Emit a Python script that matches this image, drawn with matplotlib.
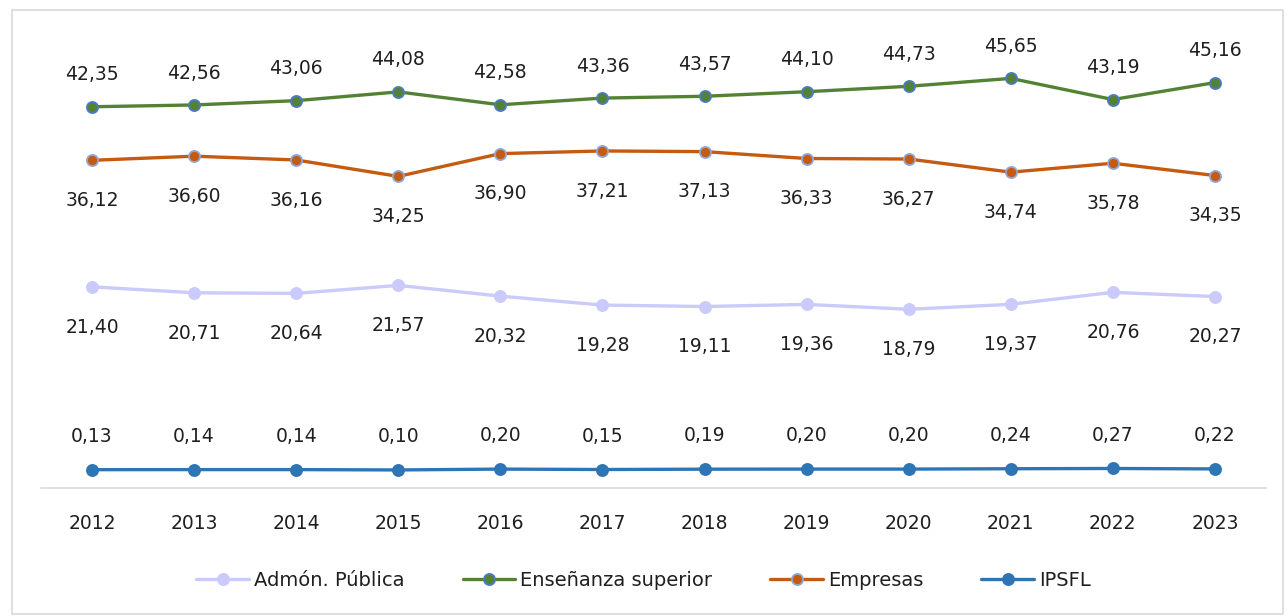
import matplotlib.pyplot as plt
from matplotlib.patches import Rectangle

years = ['2012', '2013', '2014', '2015', '2016', '2017', '2018', '2019', '2020', '2021', '2022', '2023']
admon = [21.40, 20.71, 20.64, 21.57, 20.32, 19.28, 19.11, 19.36, 18.79, 19.37, 20.76, 20.27]
ensenanza = [42.35, 42.56, 43.06, 44.08, 42.58, 43.36, 43.57, 44.10, 44.73, 45.65, 43.19, 45.16]
empresas = [36.12, 36.60, 36.16, 34.25, 36.90, 37.21, 37.13, 36.33, 36.27, 34.74, 35.78, 34.35]
ipsfl = [0.13, 0.14, 0.14, 0.10, 0.20, 0.15, 0.19, 0.20, 0.20, 0.24, 0.27, 0.22]

W, H = 1287, 616
fig = plt.figure(figsize=(W / 100, H / 100), dpi=100)
ax = fig.add_axes([41 / W, 128 / H, (1266 - 41) / W, (575 - 128) / H])

x = list(range(len(years)))
series = [
    ('Admón. Pública', admon, '#CACAFB', '#CACAFB', -29),
    ('Enseñanza superior', ensenanza, '#548235', '#4A7BC4', 23),
    ('Empresas', empresas, '#C55A11', '#8FA8D8', -29),
    ('IPSFL', ipsfl, '#2E75B6', '#2E75B6', 24),
]

for name, vals, col, edge, off in series:
    ax.plot(x, vals, color=col, lw=2.4, marker='o', ms=8,
            mfc=col, mec=edge, mew=1.3, label=name, solid_capstyle='round')
    for xi, v in zip(x, vals):
        ax.annotate(f'{v:.2f}'.replace('.', ','), (xi, v), xytext=(0, off),
                    textcoords='offset points', ha='center', va='center',
                    fontsize=13.5, color='#1F1F1F')

ax.set_xlim(-0.5, 11.5)
ax.set_ylim(-2, 50)
ax.set_xticks(x)
ax.set_xticklabels(years, fontsize=13.5, color='#1F1F1F')
ax.tick_params(axis='x', length=0, pad=19)
ax.set_yticks([])
for s in ['top', 'right', 'left']:
    ax.spines[s].set_visible(False)
ax.spines['bottom'].set_color('#D9D9D9')
ax.spines['bottom'].set_linewidth(1.2)

fig.legend(loc='center', bbox_to_anchor=(0.5, 1 - 580 / H), ncol=4, frameon=False,
           fontsize=14, handlelength=2.7, columnspacing=3.0, handletextpad=0.25,
           labelcolor='#1F1F1F')

fig.patches.append(Rectangle((12 / W, 2 / H), (1283 - 12) / W, (606 - 2) / H,
                             transform=fig.transFigure, fill=False,
                             edgecolor='#D9D9D9', lw=1.2))

fig.savefig('out.png', dpi=100)
